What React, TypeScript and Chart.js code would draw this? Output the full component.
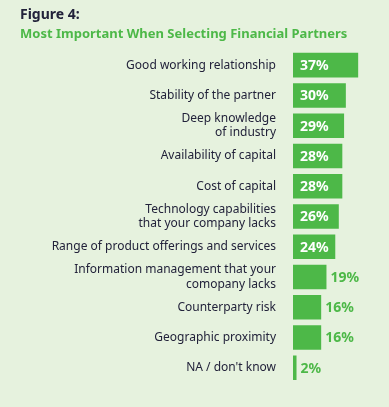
import React, { useEffect, useRef } from "react";
import { Chart, registerables } from "chart.js";

Chart.register(...registerables);

const categories: (string | string[])[] = [
  "Good working relationship",
  "Stability of the partner",
  ["Deep knowledge", "of industry"],
  "Availability of capital",
  "Cost of capital",
  ["Technology capabilities", "that your company lacks"],
  "Range of product offerings and services",
  ["Information management that your", "comopany lacks"],
  "Counterparty risk",
  "Geographic proximity",
  "NA / don't know",
];
const values = [37, 30, 29, 28, 28, 26, 24, 19, 16, 16, 2];

const BG = "#e6f2de";
const GREEN = "#4db848";
const DARK = "#22223a";

export default function App() {
  const ref = useRef<HTMLCanvasElement | null>(null);
  useEffect(() => {
    document.body.style.margin = "0";
    document.body.style.background = BG;
    const canvas = ref.current!;
    const valueLabels = {
      id: "valueLabels",
      afterDatasetsDraw(chart: any) {
        const ctx = chart.ctx;
        const meta = chart.getDatasetMeta(0);
        ctx.save();
        ctx.textBaseline = "middle";
        ctx.textAlign = "left";
        ctx.font = "bold 14px 'Noto Sans', sans-serif";
        meta.data.forEach((bar: any, i: number) => {
          const v = values[i];
          const t = v + "%";
          if (v >= 24) {
            ctx.fillStyle = "#ffffff";
            ctx.fillText(t, bar.base + 7, bar.y + 1);
          } else {
            ctx.fillStyle = GREEN;
            ctx.fillText(t, bar.x + 4, bar.y + 1);
          }
        });
        ctx.restore();
      },
    };
    const chart = new Chart(canvas, {
      type: "bar",
      data: {
        labels: categories,
        datasets: [
          {
            data: values,
            backgroundColor: GREEN,
            borderWidth: 0,
            categoryPercentage: 1,
            barPercentage: 0.81,
          },
        ],
      },
      options: {
        indexAxis: "y",
        animation: false,
        responsive: false,
        maintainAspectRatio: false,
        layout: { padding: { left: 20, right: 0, top: 0, bottom: 5 } },
        plugins: {
          legend: { display: false },
          tooltip: { enabled: false },
          title: {
            display: true,
            text: "Figure 4:",
            align: "start",
            color: DARK,
            font: { family: "'Noto Sans', sans-serif", size: 14, weight: "bold" },
            padding: { top: 7, bottom: 2 },
          },
          subtitle: {
            display: true,
            text: "Most Important When Selecting Financial Partners",
            align: "start",
            color: GREEN,
            font: { family: "'Noto Sans', sans-serif", size: 13, weight: "bold" },
            padding: { top: 1, bottom: 7.6 },
          },
        },
        scales: {
          x: {
            display: false,
            min: 0,
            max: 54.5,
          },
          y: {
            grid: { display: false, drawTicks: false },
            border: { display: false },
            afterFit(scale: any) {
              scale.width = 273;
            },
            ticks: {
              color: DARK,
              padding: 17,
              font: { family: "'Noto Sans', sans-serif", size: 12 },
              autoSkip: false,
            },
          },
        },
      },
      plugins: [valueLabels],
    } as any);
    return () => chart.destroy();
  }, []);
  return (
    <div style={{ width: 389, height: 407, background: BG }}>
      <canvas ref={ref} width={389} height={407} style={{ display: "block" }} />
    </div>
  );
}
